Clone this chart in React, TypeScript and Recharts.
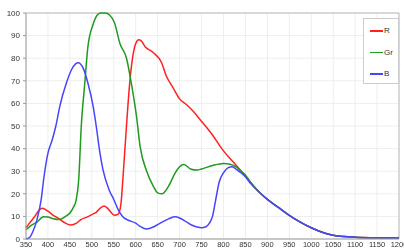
import { LineChart, Line, XAxis, YAxis, CartesianGrid, Legend, ReferenceLine } from 'recharts';

// shared tail where all three curves merge
const tail: [number, number][] = [
  [880, 21], [900, 17.5], [925, 14], [950, 10.5], [975, 7.5], [1000, 5], [1025, 3],
  [1050, 1.7], [1075, 1.1], [1100, 0.8], [1150, 0.5], [1200, 0.4],
];

const redPoints: [number, number][] = [
  [350, 5], [360, 7.5], [370, 10], [380, 12.8], [387, 13.6], [400, 12.3], [412, 10.5],
  [425, 9], [440, 7], [452, 6.2], [465, 7], [475, 8.6], [490, 9.8], [500, 10.8], [510, 11.8],
  [520, 13.8], [528, 14.6], [535, 13.8], [545, 11.5], [552, 10.5], [560, 11], [566, 15],
  [572, 30], [579, 50], [585, 66], [592, 79], [600, 86.5], [607, 88.2], [612, 87.8],
  [622, 85], [640, 82.5], [659, 78], [670, 72], [685, 67], [700, 62], [716, 59.4],
  [731, 56.5], [746, 53], [775, 46], [800, 39], [825, 33.5], [845, 29], [860, 25.5],
];

const greenPoints: [number, number][] = [
  [350, 4.1], [362, 6], [375, 7.5], [390, 9.8], [400, 9.7], [412, 9], [425, 8.6], [440, 10],
  [450, 11.5], [458, 14], [464, 17], [470, 26], [476, 50], [484, 69], [491, 85], [503, 95],
  [512, 99], [520, 100], [530, 100], [541, 99], [552, 95.5], [564, 86.5], [579, 80],
  [590, 69], [602, 54], [610, 41], [625, 30], [640, 23.4], [650, 20.4], [660, 20],
  [675, 23.4], [690, 29.3], [700, 32], [710, 33], [725, 31], [740, 30.5], [750, 31],
  [775, 32.5], [800, 33.4], [815, 33.1], [828, 32], [840, 30], [850, 28.3], [862, 25],
];

const bluePoints: [number, number][] = [
  [350, 0], [357, 0.5], [365, 3], [375, 8.6], [385, 18], [390, 26], [400, 38], [410, 44],
  [418, 50], [427, 58.7], [442, 69], [454, 75], [463, 77.5], [469, 78], [480, 75.7],
  [491, 69], [503, 58.7], [510, 50], [517, 40], [525, 31], [540, 21.5], [550, 17.5],
  [560, 13], [570, 10], [580, 8.6], [600, 7], [610, 5.6], [625, 4.4], [640, 5.3],
  [650, 6.4], [675, 8.9], [690, 9.8], [700, 9.3], [712, 8], [725, 6.4], [740, 5.3],
  [750, 5], [760, 5.4], [768, 7], [775, 10], [782, 17], [790, 25], [800, 29.3],
  [810, 31.5], [820, 32], [830, 30.7], [840, 29.3], [850, 27.5], [862, 24.5],
];

const xTicks = [350, 400, 450, 500, 550, 600, 650, 700, 750, 800, 850, 900, 950, 1000, 1050, 1100, 1150, 1200];
const yTicks = [0, 10, 20, 30, 40, 50, 60, 70, 80, 90, 100];

const toRows = (pts: [number, number][]) => pts.concat(tail).map(([nm, v]) => ({ nm, v }));

const series = [
  { name: 'R', color: '#ff2020', data: toRows(redPoints) },
  { name: 'Gr', color: '#209a20', data: toRows(greenPoints) },
  { name: 'B', color: '#4545ff', data: toRows(bluePoints) },
];

function LegendBox() {
  return (
    <div style={{ width: 36, height: 66, background: '#fff', border: '1px solid #ccc', boxSizing: 'border-box', paddingTop: 1 }}>
      {series.map((s) => (
        <div key={s.name} style={{ display: 'flex', alignItems: 'center', height: 21.5 }}>
          <div style={{ width: 13, height: 1.5, background: s.color, marginLeft: 6, marginRight: 1 }} />
          <span style={{ fontSize: 8, color: '#333' }}>{s.name}</span>
        </div>
      ))}
    </div>
  );
}

export default function App() {
  return (
    <div style={{ position: 'fixed', left: 0, top: 0, fontFamily: '"Liberation Sans", Arial, sans-serif' }}>
      <LineChart width={404} height={251} margin={{ top: 13, right: 5, bottom: 0, left: 0 }}>
        <CartesianGrid stroke="#eeeeee" />
        <XAxis
          type="number"
          dataKey="nm"
          domain={[350, 1200]}
          ticks={xTicks}
          interval={0}
          allowDuplicatedCategory={false}
          height={12}
          tickSize={0}
          tickMargin={3}
          stroke="#999"
          tick={{ fontSize: 7.5, fill: '#333' }}
        />
        <YAxis
          type="number"
          domain={[0, 100]}
          ticks={yTicks}
          interval={0}
          width={26}
          tickSize={3}
          tickMargin={3}
          stroke="#999"
          tick={{ fontSize: 8, fill: '#333' }}
        />
        <ReferenceLine y={100} stroke="#bbb" />
        <ReferenceLine x={1200} stroke="#bbb" />
        <Legend
          layout="horizontal"
          align="center"
          verticalAlign="middle"
          content={() => <LegendBox />}
          wrapperStyle={{ position: 'absolute', top: 18, left: 363, width: 36 }}
        />
        {series.map((s) => (
          <Line
            key={s.name}
            data={s.data}
            dataKey="v"
            name={s.name}
            type="monotone"
            stroke={s.color}
            strokeWidth={1.5}
            dot={false}
            isAnimationActive={false}
          />
        ))}
      </LineChart>
    </div>
  );
}
